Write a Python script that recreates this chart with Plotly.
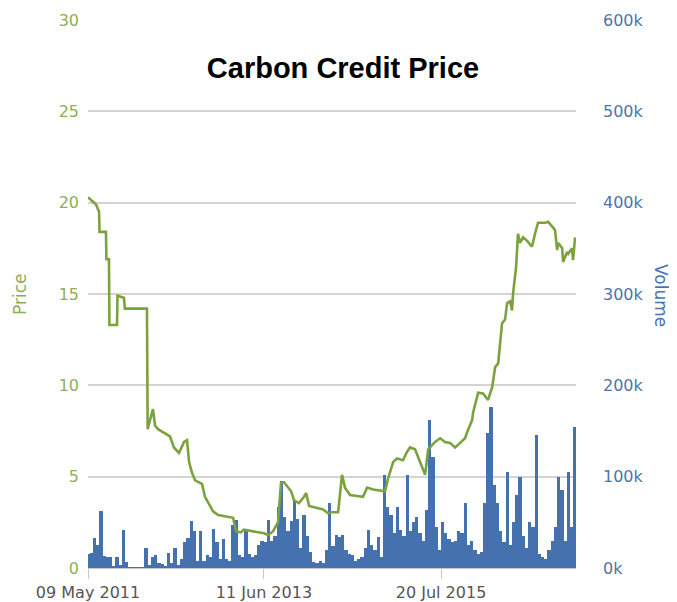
import pandas as pd
import plotly.graph_objects as go

# ---- Data ----
price_dates = [
    "2011-05-09", "2011-05-26", "2011-06-13", "2011-06-26", "2011-06-28", "2011-07-26", "2011-07-28",
    "2011-08-08", "2011-08-10", "2011-09-12", "2011-09-14", "2011-10-12", "2011-10-16", "2012-01-20",
    "2012-01-23", "2012-02-15", "2012-02-24", "2012-03-08", "2012-04-03", "2012-04-29", "2012-05-16",
    "2012-06-07", "2012-06-29", "2012-07-12", "2012-07-21", "2012-08-03", "2012-08-16", "2012-09-15",
    "2012-09-28", "2012-11-02", "2012-11-24", "2013-01-02", "2013-01-28", "2013-02-10", "2013-03-03",
    "2013-03-16", "2013-05-08", "2013-06-11", "2013-06-29", "2013-07-20", "2013-08-11", "2013-08-24",
    "2013-09-06", "2013-09-24", "2013-10-07", "2013-10-20", "2013-11-10", "2013-12-02", "2013-12-11",
    "2013-12-24", "2014-01-23", "2014-02-23", "2014-03-16", "2014-04-03", "2014-04-29", "2014-05-16",
    "2014-05-29", "2014-06-20", "2014-08-15", "2014-09-02", "2014-09-28", "2014-11-06", "2014-11-19",
    "2014-12-02", "2014-12-24", "2015-01-10", "2015-02-05", "2015-02-22", "2015-03-07", "2015-03-29",
    "2015-04-11", "2015-04-29", "2015-05-12", "2015-05-25", "2015-06-11", "2015-06-24", "2015-07-16",
    "2015-08-06", "2015-08-28", "2015-09-19", "2015-10-11", "2015-11-01", "2015-11-14", "2015-12-02",
    "2015-12-06", "2015-12-28", "2016-01-18", "2016-02-09", "2016-02-27", "2016-03-11", "2016-03-24",
    "2016-04-10", "2016-04-23", "2016-05-02", "2016-05-15", "2016-05-23", "2016-05-28", "2016-06-10",
    "2016-06-18", "2016-06-27", "2016-07-10", "2016-07-28", "2016-08-10", "2016-08-18", "2016-08-31",
    "2016-09-13", "2016-10-14", "2016-10-27", "2016-11-13", "2016-11-26", "2016-12-05", "2016-12-09",
    "2016-12-27", "2016-12-31", "2017-01-17", "2017-01-22", "2017-02-08", "2017-02-12", "2017-02-21",
]
price_values = [
    20.3, 20.1, 19.9, 19.5, 18.4, 18.4, 16.9,
    16.9, 13.3, 13.3, 14.9, 14.8, 14.2, 14.2,
    7.6, 8.7, 7.8, 7.6, 7.4, 7.2, 6.6,
    6.3, 6.9, 7.0, 5.8, 5.2, 4.8, 4.6,
    3.9, 3.1, 2.9, 2.8, 2.75, 2.0, 1.95,
    2.1, 2.0, 1.9, 1.8, 2.0, 2.5, 4.65,
    4.7, 4.4, 4.2, 3.7, 3.55, 3.9, 4.1,
    3.4, 3.3, 3.2, 3.0, 3.05, 3.05, 5.1,
    4.4, 4.0, 3.9, 4.4, 4.3, 4.2, 4.2,
    4.9, 5.8, 6.0, 5.9, 6.35, 6.6, 6.5,
    6.1, 5.6, 5.1, 6.5, 6.7, 6.9, 7.1,
    6.9, 6.85, 6.6, 6.85, 7.1, 7.55, 8.1,
    8.5, 9.6, 9.55, 9.2, 9.9, 11.0, 11.2,
    13.4, 13.6, 14.5, 14.6, 14.1, 15.05, 16.5,
    18.3, 17.8, 18.1, 17.9, 17.7, 17.6, 18.3,
    18.9, 18.9, 18.95, 18.7, 18.5, 17.4, 17.8,
    17.5, 16.75, 17.3, 17.2, 17.5, 16.85, 18.1,
]
assert len(price_dates) == len(price_values)

# Volume per two-week period, in thousands (period start dates)
volume_start = "2011-05-09"
volume_k = [
    15, 16, 33, 25, 62, 13, 12, 12, 2, 12,
    3, 42, 7, 1, 0.5, 0.5, 0.5, 1, 22, 3,
    12, 14, 6, 4, 2, 16, 5, 22, 3, 10,
    28, 33, 51, 40, 8, 41, 8, 14, 12, 43,
    28, 10, 32, 10, 8, 47, 53, 14, 12, 40,
    15, 12, 14, 25, 30, 29, 53, 30, 35, 67,
    95, 56, 40, 51, 74, 54, 22, 58, 35, 18,
    7, 6, 8, 6, 20, 71, 24, 36, 34, 36,
    20, 15, 14, 8, 10, 12, 22, 42, 25, 20,
    34, 12, 102, 67, 58, 38, 67, 42, 35, 102,
    40, 50, 56, 38, 30, 63, 162, 122, 45, 20,
    50, 38, 32, 28, 30, 40, 38, 71, 25, 30,
    20, 15, 18, 71, 148, 176, 91, 71, 40, 28,
    105, 25, 50, 80, 100, 35, 22, 50, 45, 146,
    15, 12, 10, 20, 30, 45, 100, 85, 30, 105,
    45, 154,
]
volume_dates = pd.date_range(volume_start, periods=len(volume_k), freq="14D")
volume_values = [v * 1000 for v in volume_k]

price_ticks = [0, 5, 10, 15, 20, 25, 30]
volume_ticks = [0, 100000, 200000, 300000, 400000, 500000, 600000]
volume_tick_text = ["0k", "100k", "200k", "300k", "400k", "500k", "600k"]
date_ticks = ["2011-05-09", "2013-06-11", "2015-07-20"]
date_tick_text = ["09 May 2011", "11 Jun 2013", "20 Jul 2015"]
x_range = ["2011-05-09", "2017-02-25"]

GREEN = "#7ca23f"
GREEN_TXT = "#8fae55"
BLUE = "#4571ae"
BLUE_TXT = "#4d74a8"
FONT = "DejaVu Sans"

# The page body has an 8px default margin; size the figure to fit the window.
W, H = 669, 594
ML, MR, MT, MB = 80, 101, 12, 34
PW, PH = W - ML - MR, H - MT - MB


def px_x(x):  # window pixel -> paper fraction
    return (x - 8 - ML) / PW


def px_y(y):
    return (H - MB - (y - 8)) / PH


fig = go.Figure()
fig.add_trace(go.Bar(
    x=volume_dates, y=volume_values, yaxis="y",
    marker=dict(color=BLUE, line=dict(width=0)),
    name="Volume", showlegend=False,
))
fig.add_trace(go.Scatter(
    x=price_dates, y=price_values, yaxis="y2", mode="lines",
    line=dict(color=GREEN, width=2.6),
    name="Price", showlegend=False,
))

fig.update_layout(
    width=W, height=H,
    margin=dict(l=ML, r=MR, t=MT, b=MB, autoexpand=False),
    paper_bgcolor="white", plot_bgcolor="white",
    bargap=0.0,
    font=dict(family=FONT),
    title=dict(
        text="<b>Carbon Credit Price</b>",
        font=dict(family="Liberation Sans", size=29, color="black"),
        xref="paper", x=px_x(343), xanchor="center",
        yref="paper", y=px_y(68), yanchor="middle",
    ),
    xaxis=dict(
        type="date", range=x_range, automargin=False,
        tickvals=date_ticks, ticktext=date_tick_text,
        tickfont=dict(size=16, color="#555555", family=FONT),
        showgrid=False, zeroline=False,
        showline=True, linecolor="#c8c8c8", linewidth=1,
        ticks="outside", ticklen=10, tickcolor="#c8c8c8", tickwidth=1,
    ),
    yaxis=dict(
        side="right", range=[0, 600000], automargin=False,
        tickvals=volume_ticks, ticktext=volume_tick_text,
        tickfont=dict(size=16, color=BLUE_TXT, family=FONT),
        showgrid=True, gridcolor="#d4d4d4", gridwidth=2,
        zeroline=False, showline=False, ticks="",
        ticklabelstandoff=26,
    ),
    yaxis2=dict(
        overlaying="y", side="left", range=[0, 30], automargin=False,
        tickvals=price_ticks,
        tickfont=dict(size=16, color=GREEN_TXT, family=FONT),
        showgrid=False, zeroline=False, showline=False, ticks="",
        ticklabelstandoff=8,
    ),
    annotations=[
        dict(text="Price", xref="paper", yref="paper",
             x=px_x(20), y=px_y(295), textangle=-90,
             showarrow=False, font=dict(size=17, color=GREEN_TXT, family=FONT),
             xanchor="center", yanchor="middle"),
        dict(text="Volume", xref="paper", yref="paper",
             x=px_x(661), y=px_y(295), textangle=90,
             showarrow=False, font=dict(size=17, color=BLUE_TXT, family=FONT),
             xanchor="center", yanchor="middle"),
    ],
)

fig.write_html("out.html")
